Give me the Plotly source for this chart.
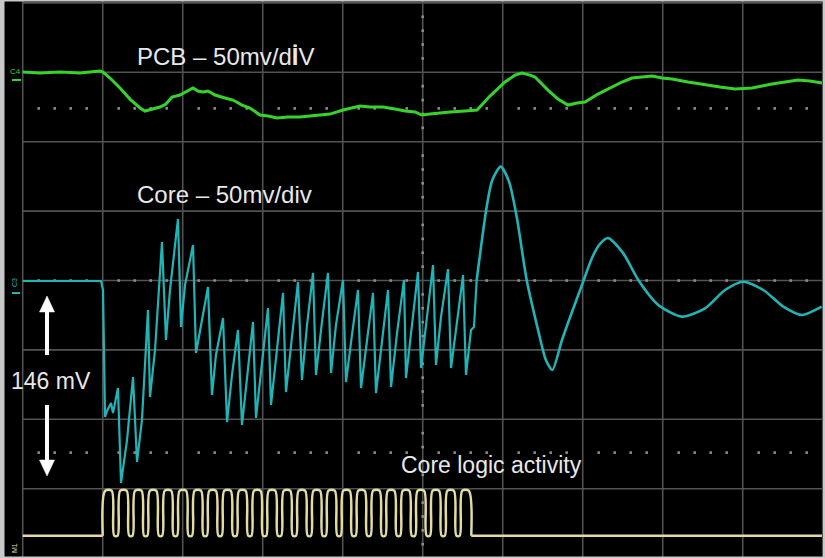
import numpy as np
import plotly.graph_objects as go

# ---------------- data (time in graticule divisions, voltages in mV) ----------------
# C4 : PCB supply, 50 mV/div
pcb_t = [0.000, 0.216, 0.466, 0.716, 0.966, 1.004, 1.091, 1.216, 1.341, 1.466, 1.529, 1.616,
         1.716, 1.791, 1.866, 1.966, 2.054, 2.129, 2.191, 2.254, 2.316, 2.404, 2.529, 2.629,
         2.741, 2.841, 2.966, 3.066, 3.179, 3.316, 3.466, 3.591, 3.716, 3.841, 4.004, 4.116,
         4.216, 4.341, 4.504, 4.654, 4.779, 4.904, 4.991, 5.091, 5.191, 5.341, 5.529, 5.679,
         5.841, 6.029, 6.154, 6.241, 6.341, 6.404, 6.491, 6.566, 6.691, 6.816, 6.929, 7.029,
         7.191, 7.366, 7.491, 7.616, 7.741, 7.866, 7.991, 8.116, 8.316, 8.529, 8.716, 8.904,
         9.116, 9.241, 9.366, 9.529, 9.691, 9.841, 9.991]
pcb_mv = [0.0, -0.7, 0.0, -0.7, 0.7, 0.0, -4.3, -11.5, -19.5, -25.9, -28.1, -26.7,
          -25.2, -23.1, -18.0, -16.6, -13.7, -11.5, -13.7, -14.4, -13.7, -16.6, -18.7, -20.2,
          -23.8, -25.9, -31.0, -31.7, -33.1, -32.4, -32.4, -31.7, -31.0, -30.3, -27.4, -25.9,
          -24.5, -25.2, -25.2, -26.7, -28.1, -28.8, -31.0, -30.3, -29.5, -28.8, -28.1, -27.4,
          -17.3, -7.2, -2.2, -0.7, -2.2, -3.6, -8.6, -13.0, -19.5, -23.8, -22.3, -21.6,
          -15.9, -10.8, -7.2, -4.3, -3.6, -2.9, -4.3, -5.0, -7.2, -9.4, -10.8, -12.2,
          -11.5, -10.1, -8.6, -7.2, -5.8, -6.5, -7.9]

# C3 : core supply, 50 mV/div -- burst section (while core logic is active)
core_burst_t = [0.000, 0.979, 1.004, 1.029, 1.054, 1.104, 1.129, 1.191, 1.229, 1.304, 1.379, 1.429,
                1.491, 1.566, 1.591, 1.654, 1.741, 1.791, 1.841, 1.941, 1.979, 2.029, 2.129, 2.166,
                2.241, 2.316, 2.366, 2.416, 2.504, 2.554, 2.616, 2.691, 2.741, 2.804, 2.879, 2.916,
                2.991, 3.066, 3.104, 3.166, 3.254, 3.291, 3.366, 3.441, 3.491, 3.554, 3.629, 3.666,
                3.741, 3.816, 3.854, 3.916, 4.004, 4.041, 4.116, 4.191, 4.229, 4.304, 4.379, 4.416,
                4.491, 4.566, 4.604, 4.679, 4.766, 4.791, 4.866, 4.941, 4.979, 5.054, 5.129, 5.166,
                5.229, 5.316, 5.354, 5.429, 5.504, 5.541, 5.604, 5.641, 5.675]
core_burst_mv = [0.0, 0.0, -6.5, -98.0, -93.7, -87.9, -95.1, -77.1, -145.5, -114.6, -69.2, -130.4,
                 -100.1, -20.9, -83.6, -49.7, 28.1, -42.5, -6.5, 44.7, -33.1, -2.9, 25.9, -51.9,
                 -28.1, -4.3, -82.1, -53.3, -26.7, -101.6, -67.7, -35.3, -103.8, -69.2, -29.5, -98.7,
                 -59.1, -19.5, -89.3, -54.8, -8.6, -80.0, -42.5, -0.7, -71.3, -31.7, 5.8, -67.7,
                 -29.5, 5.8, -66.3, -31.7, 0.7, -72.8, -38.9, -6.5, -77.1, -42.5, -8.6, -80.7,
                 -44.0, -6.5, -76.4, -37.5, 0.7, -69.9, -31.7, 6.5, -62.7, -25.9, 11.5, -60.5,
                 -25.9, 8.6, -62.7, -29.5, 4.3, -67.7, -35.3, -33.1, 0.7]
# C3 : ringing after the activity stops
core_ring_t = [5.675, 5.800, 5.870, 5.975, 6.079, 6.175, 6.300, 6.441, 6.540, 6.620, 6.741, 6.866,
               6.991, 7.116, 7.216, 7.316, 7.508, 7.695, 7.945, 8.238, 8.529, 8.779, 9.008, 9.258,
               9.508, 9.738, 9.988]
core_ring_mv = [0.7, 53.5, 72.8, 82.4, 71.6, 46.3, 0.7, -35.0, -57.0, -64.1, -42.5, -22.3,
                -2.9, 16.6, 26.7, 31.0, 19.9, 0.7, -17.3, -25.7, -19.7, -6.5, -0.5, -6.5,
                -18.5, -24.5, -18.5]

# M1 : core logic activity (clock edges)
clock_rise_t = [1.016, 1.203, 1.389, 1.574, 1.760, 1.946, 2.133, 2.318, 2.504, 2.690, 2.876, 3.061,
                3.248, 3.434, 3.620, 3.805, 3.991, 4.178, 4.364, 4.549, 4.735, 4.921, 5.108, 5.293,
                5.479]
clock_fall_t = [1.128, 1.315, 1.501, 1.686, 1.872, 2.058, 2.245, 2.430, 2.616, 2.802, 2.988, 3.173,
                3.360, 3.546, 3.732, 3.917, 4.103, 4.290, 4.476, 4.661, 4.847, 5.033, 5.220, 5.405,
                5.591]
clock_levels = [0, 1]   # logic low / high

# ---------------- display settings ----------------
MV_PER_DIV = 50.0
PCB_POS = 3.004      # trace position (div)
CORE_POS = -0.007
CLK_LOW_POS = -3.677
CLK_HIGH_POS = -3.029
T_END = 9.99

W, H = 825, 558
X0_PX, PX_PER_XDIV = 22.7, 80.0
Y0_PX, PX_PER_YDIV = 280.5, 69.4
xr = [-X0_PX / PX_PER_XDIV, (W - X0_PX) / PX_PER_XDIV]
yr = [-(H - Y0_PX) / PX_PER_YDIV, Y0_PX / PX_PER_YDIV]


def X(px):
    return (px - X0_PX) / PX_PER_XDIV


def Y(py):
    return (Y0_PX - py) / PX_PER_YDIV


GREEN = "#36d42a"
CYAN = "#21b4b6"
YELLOW = "#e2dca2"
GRID = "#535353"
TEXT = "#e8e8e8"
FONT = "Liberation Sans, Arial, sans-serif"

fig = go.Figure()

# graticule dots (minor ticks on the centre lines and on the two marker rows)
xs_minor = [k * 0.2 for k in range(0, 51) if k % 5]
ys_minor = [k * 0.2 for k in range(-20, 21) if k % 5]
dot_x = xs_minor * 3 + [5.0] * len(ys_minor)
dot_y = [0.0] * len(xs_minor) + [2.48] * len(xs_minor) + [-2.48] * len(xs_minor) + ys_minor
fig.add_trace(go.Scatter(x=dot_x, y=dot_y, mode="markers",
                         marker=dict(symbol="square", size=2.6, color="#8c8c8c"),
                         hoverinfo="skip", showlegend=False))

# PCB trace
fig.add_trace(go.Scatter(x=pcb_t, y=[PCB_POS + v / MV_PER_DIV for v in pcb_mv], mode="lines",
                         line=dict(color=GREEN, width=3), showlegend=False))
# Core trace
fig.add_trace(go.Scatter(x=core_burst_t, y=[CORE_POS + v / MV_PER_DIV for v in core_burst_mv],
                         mode="lines", line=dict(color=CYAN, width=2.2), showlegend=False))
fig.add_trace(go.Scatter(x=core_ring_t, y=[CORE_POS + v / MV_PER_DIV for v in core_ring_mv],
                         mode="lines", line=dict(color=CYAN, width=2.6, shape="spline", smoothing=0.7),
                         showlegend=False))

# clock trace built from edge times
lo = CLK_LOW_POS + clock_levels[0] * (CLK_HIGH_POS - CLK_LOW_POS)
hi = CLK_LOW_POS + clock_levels[1] * (CLK_HIGH_POS - CLK_LOW_POS)
e = 0.016
cx, cy = [], []
for r, f in zip(clock_rise_t, clock_fall_t):
    cx += [r - e, r + e, f - e, f + e]
    cy += [lo, hi, hi, lo]
fig.add_trace(go.Scatter(x=cx, y=cy, mode="lines",
                         line=dict(color=YELLOW, width=2.5, shape="spline", smoothing=0.9),
                         showlegend=False))
# idle (flat) parts of the clock
fig.add_trace(go.Scatter(x=[0.0, clock_rise_t[0] - e, None, clock_fall_t[-1] + e, T_END],
                         y=[lo, lo, None, lo, lo], mode="lines",
                         line=dict(color=YELLOW, width=2.5), showlegend=False))

shapes = []
# grid lines
for i in range(0, 11):
    shapes.append(dict(type="line", xref="x", yref="y", x0=i, x1=i, y0=yr[0], y1=yr[1],
                       line=dict(color=GRID, width=1.6), layer="below"))
for j in range(-4, 5):
    shapes.append(dict(type="line", xref="x", yref="y", x0=0, x1=10, y0=j, y1=j,
                       line=dict(color=GRID, width=1.6), layer="below"))

# channel ground markers (small dashes)
shapes.append(dict(type="line", xref="x", yref="y", x0=X(12), x1=X(21), y0=Y(80), y1=Y(80),
                   line=dict(color=GREEN, width=2)))
shapes.append(dict(type="line", xref="x", yref="y", x0=X(12), x1=X(20), y0=Y(293), y1=Y(293),
                   line=dict(color=CYAN, width=2)))

# white arrows (146 mV)
ax = X(47)
hw = 7.5 / PX_PER_XDIV
shapes.append(dict(type="line", xref="x", yref="y", x0=ax, x1=ax, y0=Y(309), y1=Y(355),
                   line=dict(color="white", width=4)))
shapes.append(dict(type="path", xref="x", yref="y",
                   path=f"M {ax - hw},{Y(312)} L {ax + hw},{Y(312)} L {ax},{Y(296)} Z",
                   fillcolor="white", line=dict(color="white", width=0.5)))
shapes.append(dict(type="line", xref="x", yref="y", x0=ax, x1=ax, y0=Y(405), y1=Y(463),
                   line=dict(color="white", width=4)))
shapes.append(dict(type="path", xref="x", yref="y",
                   path=f"M {ax - hw},{Y(460)} L {ax + hw},{Y(460)} L {ax},{Y(476)} Z",
                   fillcolor="white", line=dict(color="white", width=0.5)))

# outer light frame
frame = "#c9c9c9"
shapes += [
    dict(type="rect", xref="paper", yref="paper", x0=0, x1=4.5 / W, y0=0, y1=1,
         fillcolor=frame, line=dict(width=0)),
    dict(type="rect", xref="paper", yref="paper", x0=0, x1=1, y0=1 - 1.5 / H, y1=1,
         fillcolor=frame, line=dict(width=0)),
    dict(type="rect", xref="paper", yref="paper", x0=1 - 2 / W, x1=1, y0=0, y1=1,
         fillcolor=frame, line=dict(width=0)),
    dict(type="rect", xref="paper", yref="paper", x0=0, x1=1, y0=0, y1=1.5 / H,
         fillcolor=frame, line=dict(width=0)),
]

annotations = [
    dict(x=X(135), y=Y(56), xref="x", yref="y", xanchor="left", yanchor="middle",
         text="PCB – 50mv/d<b>İ</b>V", showarrow=False,
         font=dict(family=FONT, size=24, color=TEXT)),
    dict(x=X(135), y=Y(194), xref="x", yref="y", xanchor="left", yanchor="middle",
         text="Core – 50mv/div", showarrow=False,
         font=dict(family=FONT, size=24, color=TEXT)),
    dict(x=X(9), y=Y(381), xref="x", yref="y", xanchor="left", yanchor="middle",
         text="146 mV", showarrow=False,
         font=dict(family=FONT, size=23, color=TEXT)),
    dict(x=X(399), y=Y(465), xref="x", yref="y", xanchor="left", yanchor="middle",
         text="Core logic activity", showarrow=False,
         font=dict(family=FONT, size=23, color=TEXT)),
    dict(x=X(15), y=Y(71), xref="x", yref="y", xanchor="center", yanchor="middle",
         text="C4", showarrow=False, font=dict(family=FONT, size=8, color=GREEN)),
    dict(x=X(14), y=Y(283), xref="x", yref="y", xanchor="center", yanchor="middle",
         text="C3", showarrow=False, textangle=-90, font=dict(family=FONT, size=7, color=CYAN)),
    dict(x=X(14), y=Y(548), xref="x", yref="y", xanchor="center", yanchor="middle",
         text="M1", showarrow=False, textangle=-90, font=dict(family=FONT, size=7, color=YELLOW)),
]

fig.update_layout(
    width=W, height=H, margin=dict(l=0, r=0, t=0, b=0),
    paper_bgcolor="black", plot_bgcolor="black",
    xaxis=dict(range=xr, visible=False, fixedrange=True),
    yaxis=dict(range=yr, visible=False, fixedrange=True),
    shapes=shapes, annotations=annotations, showlegend=False,
)

fig.write_html("out.html")
